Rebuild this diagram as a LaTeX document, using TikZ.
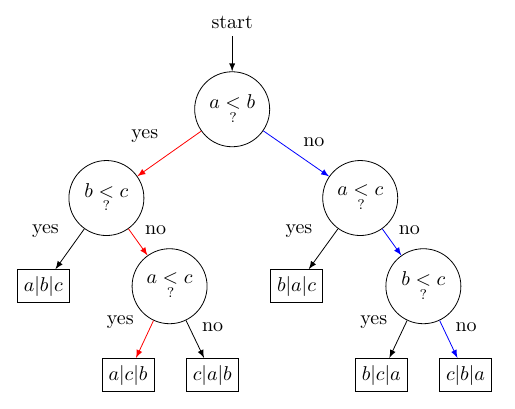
\documentclass[tikz,border=0pt]{standalone}
\usepackage{amsmath}
\usepackage{tikz}
\usetikzlibrary{arrows}

\begin{document}
\begin{tikzpicture}[
    cmp/.style={draw, circle, minimum size=37.5pt, inner sep=0pt},
    perm/.style={draw},
    arr/.style={->, >=latex},
    yeslabel/.style={midway, above left=2pt, text=black},
    nolabel/.style={midway, above right, text=black}
  ]
    \useasboundingbox (0,0) rectangle (9.05,-7.17);

    \node (start) at (4.08,-0.40) {start};
    \node[cmp] (ab) at (4.08,-1.92) {$a \underset{?}{<} b$};

    \node[cmp] (bc1) at (1.87,-3.48) {$b \underset{?}{<} c$};
    \node[cmp] (ac1) at (6.33,-3.48) {$a \underset{?}{<} c$};

    \node[perm] (abc) at (0.76,-5.03) {$a|b|c$};
    \node[cmp] (ac2) at (2.98,-5.03) {$a \underset{?}{<} c$};
    \node[perm] (bac) at (5.21,-5.03) {$b|a|c$};
    \node[cmp] (bc2) at (7.44,-5.03) {$b \underset{?}{<} c$};

    \node[perm] (acb) at (2.25,-6.59) {$a|c|b$};
    \node[perm] (cab) at (3.73,-6.59) {$c|a|b$};
    \node[perm] (bca) at (6.70,-6.59) {$b|c|a$};
    \node[perm] (cba) at (8.18,-6.59) {$c|b|a$};

    \draw[arr] (start) to (ab);
    \draw[arr, red] (ab) to node[yeslabel] {yes} (bc1);
    \draw[arr, blue] (ab) to node[nolabel] {no} (ac1);

    \draw[arr] (bc1) to node[yeslabel] {yes} (abc);
    \draw[arr, red] (bc1) to node[nolabel] {no} (ac2);
    \draw[arr] (ac1) to node[yeslabel] {yes} (bac);
    \draw[arr, blue] (ac1) to node[nolabel] {no} (bc2);

    \draw[arr, red] (ac2) to node[yeslabel] {yes} (acb);
    \draw[arr] (ac2) to node[nolabel] {no} (cab);
    \draw[arr] (bc2) to node[yeslabel] {yes} (bca);
    \draw[arr, blue] (bc2) to node[nolabel] {no} (cba);
  \end{tikzpicture}
\end{document}
